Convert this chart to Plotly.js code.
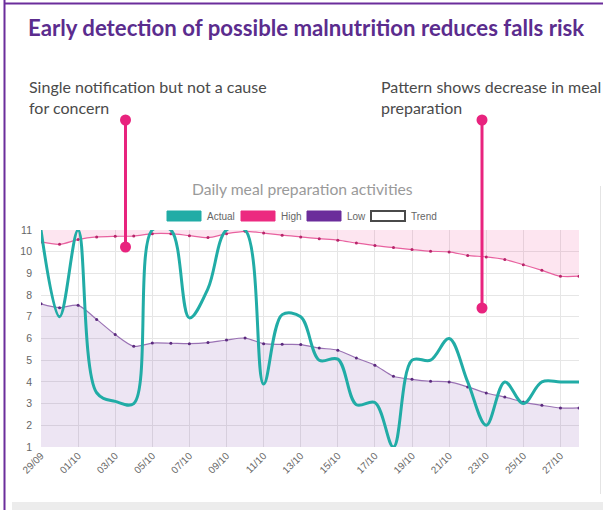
<!DOCTYPE html>
<html><head><meta charset="utf-8">
<script src="https://cdn.plot.ly/plotly-3.0.1.min.js"></script>
<style>html,body{margin:0;padding:0;background:#fff;overflow:hidden}#chart{width:603px;height:510px}</style>
</head><body><div id="chart"></div>
<script>
// ---- data ----
const dates = ['29/09','30/09','01/10','02/10','03/10','04/10','05/10','06/10','07/10','08/10',
               '09/10','10/10','11/10','12/10','13/10','14/10','15/10','16/10','17/10','18/10',
               '19/10','20/10','21/10','22/10','23/10','24/10','25/10','26/10','27/10','28/10'];
const actual = [11, 7.0, 11, 3.5, 3.1, 3.0, 11, 11, 6.95, 8.3,
                11, 11, 3.9, 7.1, 7.0, 5.0, 5.05, 2.95, 3.05, 1.0,
                5.0, 5.0, 6.0, 4.0, 2.0, 4.0, 3.0, 4.0, 4.0, 4.0];
const high = [10.45, 10.34, 10.56, 10.68, 10.71, 10.72, 10.83, 10.83, 10.74, 10.65,
              10.83, 10.94, 10.86, 10.76, 10.68, 10.6, 10.53, 10.4, 10.28, 10.19,
              10.1, 10.02, 9.99, 9.83, 9.76, 9.64, 9.4, 9.14, 8.87, 8.87];
const low = [7.6, 7.42, 7.53, 6.88, 6.18, 5.64, 5.79, 5.78, 5.76, 5.81,
             5.93, 6.02, 5.76, 5.73, 5.72, 5.56, 5.46, 5.1, 4.77, 4.26,
             4.12, 4.03, 4.0, 3.77, 3.49, 3.3, 3.07, 2.92, 2.8, 2.8];
const yTicks = [1,2,3,4,5,6,7,8,9,10,11];
const yMin = 1, yMax = 11;
const legendItems = [
  {name:'Actual', fill:'#21aca6', line:'#21aca6'},
  {name:'High',   fill:'#ec2a80', line:'#ec2a80'},
  {name:'Low',    fill:'#6b2d9b', line:'#6b2d9b'},
  {name:'Trend',  fill:'#ffffff', line:'#4a4a4a'}
];
const mainTitle = 'Early detection of possible malnutrition reduces falls risk';
const chartTitle = 'Daily meal preparation activities';
const callouts = [
  {text:'Single notification but not a cause<br>for concern', tx:27, ty:75, lx:125.5, top:120, bottom:247},
  {text:'Pattern shows decrease in meal<br>preparation', tx:379, ty:75, lx:482, top:120, bottom:308}
];

// ---- geometry helpers (pixel -> paper) ----
const W = 603, H = 510, M = {l:41, r:24, t:230, b:63};
const pw = W - M.l - M.r, ph = H - M.t - M.b;
const PX = x => (x - M.l) / pw;
const PY = y => (H - M.b - y) / ph;

const idx = dates.map((d, i) => i);
const tickIdx = idx.filter(i => i % 2 === 0);
const topBound = dates.map(() => yMax);

const traces = [
  {x: idx, y: topBound, mode:'lines', line:{width:0, color:'rgba(0,0,0,0)'}, hoverinfo:'skip', showlegend:false},
  {x: idx, y: high, mode:'lines+markers', fill:'tonexty', fillcolor:'rgba(236,42,128,0.12)',
   line:{color:'#e8619f', width:1.2, shape:'spline', smoothing:0.8},
   marker:{size:3, color:'#b8246a'}, name:'High', showlegend:false},
  {x: idx, y: low, mode:'lines+markers', fill:'tozeroy', fillcolor:'rgba(107,45,155,0.12)',
   line:{color:'#9a72b4', width:1.2, shape:'spline', smoothing:0.8},
   marker:{size:3, color:'#5b2a7e'}, name:'Low', showlegend:false},
  {x: idx, y: actual, mode:'lines', line:{color:'#21aca6', width:3, shape:'spline', smoothing:1},
   name:'Actual', showlegend:false}
];

const shapes = [];
const annotations = [];

// frame
shapes.push({type:'line', xref:'paper', yref:'paper', x0:PX(4.5), x1:PX(4.5), y0:PY(0), y1:PY(510), line:{color:'#6b2d9b', width:2}});
shapes.push({type:'line', xref:'paper', yref:'paper', x0:PX(4), x1:PX(603), y0:PY(3.5), y1:PY(3.5), line:{color:'#6b2d9b', width:2}});
shapes.push({type:'line', xref:'paper', yref:'paper', x0:PX(600.5), x1:PX(600.5), y0:PY(186), y1:PY(494), line:{color:'#e4e4e4', width:1}});
shapes.push({type:'rect', xref:'paper', yref:'paper', x0:PX(12), x1:PX(603), y0:PY(502), y1:PY(512), fillcolor:'#ececec', line:{width:0}});

// title
annotations.push({xref:'paper', yref:'paper', x:PX(26), y:PY(27), xanchor:'left', yanchor:'middle', showarrow:false,
  text:mainTitle, font:{family:'Lato', size:22.2, color:'#5b2c8e', weight:700}});
annotations.push({xref:'paper', yref:'paper', x:PX(302), y:PY(189), xanchor:'center', yanchor:'middle', showarrow:false,
  text:chartTitle, font:{family:'Lato', size:15.7, color:'#9a9a9a'}});

// callouts
callouts.forEach(c => {
  annotations.push({xref:'paper', yref:'paper', x:PX(c.tx), y:PY(c.ty), xanchor:'left', yanchor:'top', align:'left', showarrow:false,
    text:c.text, font:{family:'Lato', size:16, color:'#4a4a4a'}});
  shapes.push({type:'line', xref:'paper', yref:'paper', x0:PX(c.lx), x1:PX(c.lx), y0:PY(c.top), y1:PY(c.bottom), line:{color:'#e8237e', width:3}});
  [c.top, c.bottom].forEach(cy => shapes.push({type:'circle', xref:'paper', yref:'paper',
    x0:PX(c.lx-5.5), x1:PX(c.lx+5.5), y0:PY(cy+5.5), y1:PY(cy-5.5), fillcolor:'#e8237e', line:{width:0}}));
});

// legend
const legStart = [167, 241, 307, 371];
legendItems.forEach((it, i) => {
  const x0 = legStart[i];
  shapes.push({type:'rect', xref:'paper', yref:'paper', x0:PX(x0), x1:PX(x0+34), y0:PY(221), y1:PY(211),
    fillcolor:it.fill, line:{color:it.line, width: it.name==='Trend' ? 2 : 1}});
  annotations.push({xref:'paper', yref:'paper', x:PX(x0+38), y:PY(216), xanchor:'left', yanchor:'middle', showarrow:false,
    text:it.name, font:{family:'Liberation Sans, Arial', size:10, color:'#666'}});
});

const layout = {
  width: W, height: H,
  margin: {l:M.l, r:M.r, t:M.t, b:M.b, pad:0},
  paper_bgcolor:'#ffffff', plot_bgcolor:'#ffffff',
  showlegend:false,
  xaxis: {range:[0, dates.length-1], tickmode:'array', tickvals:tickIdx, ticktext:tickIdx.map(i => dates[i]),
    tickangle:-45, showgrid:true, gridcolor:'#e6e6e6', gridwidth:1, zeroline:false, showline:false,
    ticks:'', tickfont:{family:'Liberation Sans, Arial', size:10, color:'#666'}, fixedrange:true},
  yaxis: {range:[yMin, yMax], tickmode:'array', tickvals:yTicks, showgrid:true, gridcolor:'#e6e6e6', gridwidth:1,
    zeroline:false, showline:false, ticks:'', ticklabelstandoff:8,
    tickfont:{family:'Liberation Sans, Arial', size:10.5, color:'#666'}, fixedrange:true},
  shapes: shapes,
  annotations: annotations
};

Plotly.newPlot('chart', traces, layout, {displayModeBar:false, staticPlot:true});
</script>
</body></html>
